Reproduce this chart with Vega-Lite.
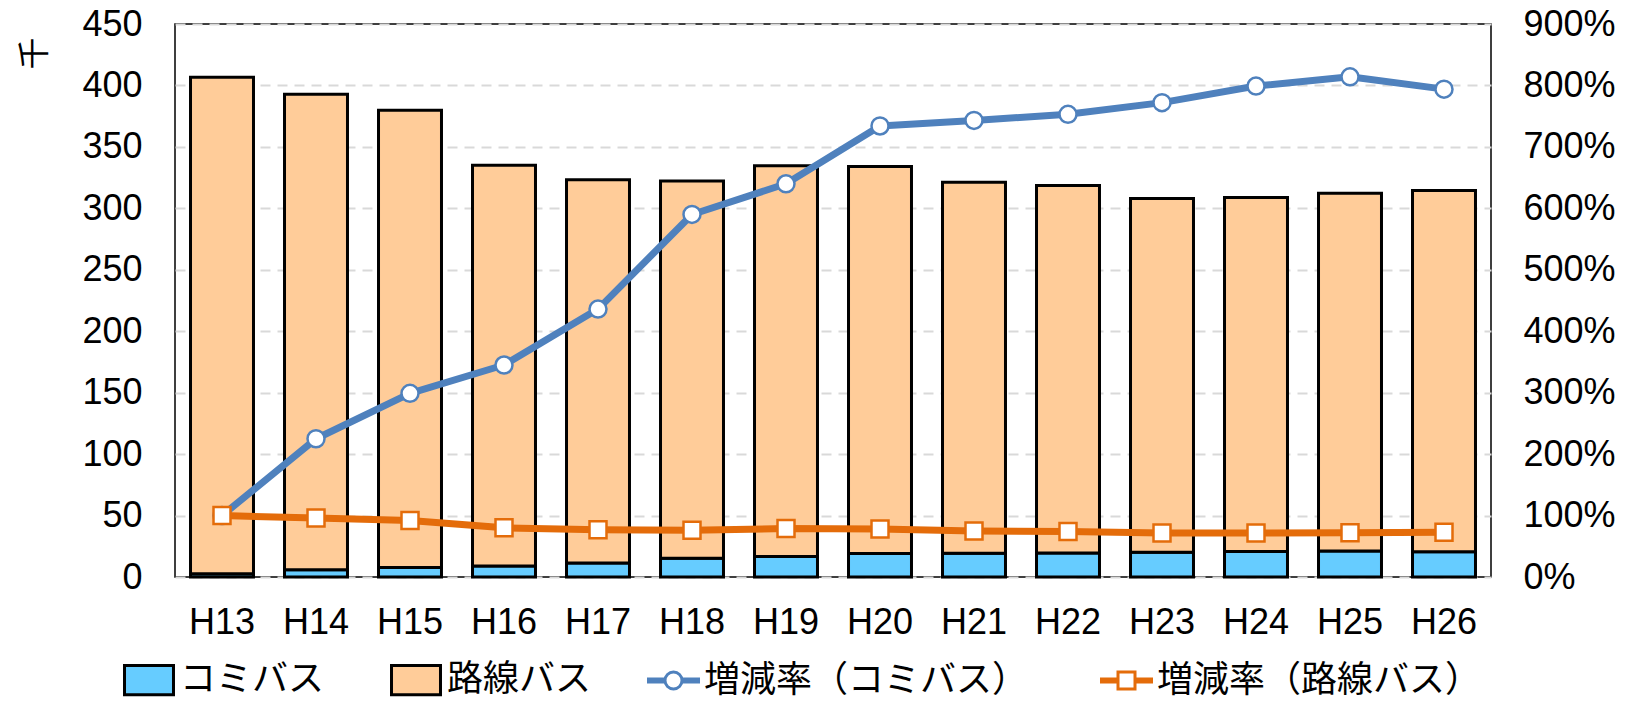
{
  "$schema": "https://vega.github.io/schema/vega-lite/v6.json",
  "width": 1316,
  "height": 553,
  "autosize": {"type": "none"},
  "padding": {"left": 175, "top": 24, "right": 136, "bottom": 126},
  "background": "white",
  "config": {
    "view": {"stroke": "black", "strokeWidth": 1.5},
    "font": "Liberation Sans",
    "axis": {"domain": false, "ticks": false, "labelColor": "black", "labelFont": "Liberation Sans", "labelFontSize": 36, "titleColor": "black"},
    "legend": {"labelFont": "Noto Sans CJK JP", "labelFontSize": 36, "labelColor": "black", "labelLimit": 600, "padding": 0, "title": null}
  },
  "datasets": {
    "bus": [
      {"year": "H13", "series": "コミバス", "value": 2.6},
      {"year": "H13", "series": "路線バス", "value": 404},
      {"year": "H14", "series": "コミバス", "value": 5.9},
      {"year": "H14", "series": "路線バス", "value": 387},
      {"year": "H15", "series": "コミバス", "value": 7.8},
      {"year": "H15", "series": "路線バス", "value": 372},
      {"year": "H16", "series": "コミバス", "value": 9.0},
      {"year": "H16", "series": "路線バス", "value": 326},
      {"year": "H17", "series": "コミバス", "value": 11.3},
      {"year": "H17", "series": "路線バス", "value": 312},
      {"year": "H18", "series": "コミバス", "value": 15.3},
      {"year": "H18", "series": "路線バス", "value": 307},
      {"year": "H19", "series": "コミバス", "value": 16.6},
      {"year": "H19", "series": "路線バス", "value": 318},
      {"year": "H20", "series": "コミバス", "value": 19.1},
      {"year": "H20", "series": "路線バス", "value": 315},
      {"year": "H21", "series": "コミバス", "value": 19.3},
      {"year": "H21", "series": "路線バス", "value": 302},
      {"year": "H22", "series": "コミバス", "value": 19.6},
      {"year": "H22", "series": "路線バス", "value": 299},
      {"year": "H23", "series": "コミバス", "value": 20.1},
      {"year": "H23", "series": "路線バス", "value": 288},
      {"year": "H24", "series": "コミバス", "value": 20.8},
      {"year": "H24", "series": "路線バス", "value": 288},
      {"year": "H25", "series": "コミバス", "value": 21.2},
      {"year": "H25", "series": "路線バス", "value": 291},
      {"year": "H26", "series": "コミバス", "value": 20.6},
      {"year": "H26", "series": "路線バス", "value": 294}
    ],
    "rate": [
      {"year": "H13", "comi": 1.00, "rosen": 1.00},
      {"year": "H14", "comi": 2.25, "rosen": 0.96},
      {"year": "H15", "comi": 2.99, "rosen": 0.92},
      {"year": "H16", "comi": 3.45, "rosen": 0.80},
      {"year": "H17", "comi": 4.36, "rosen": 0.77},
      {"year": "H18", "comi": 5.90, "rosen": 0.76},
      {"year": "H19", "comi": 6.40, "rosen": 0.79},
      {"year": "H20", "comi": 7.34, "rosen": 0.78},
      {"year": "H21", "comi": 7.43, "rosen": 0.75},
      {"year": "H22", "comi": 7.53, "rosen": 0.74},
      {"year": "H23", "comi": 7.72, "rosen": 0.715},
      {"year": "H24", "comi": 7.99, "rosen": 0.715},
      {"year": "H25", "comi": 8.14, "rosen": 0.72},
      {"year": "H26", "comi": 7.94, "rosen": 0.73}
    ]
  },
  "layer": [
    {
      "data": {"name": "bus"},
      "mark": {"type": "bar", "stroke": "black", "strokeWidth": 3},
      "encoding": {
        "x": {"field": "year", "type": "ordinal", "scale": {"paddingInner": 0.33, "paddingOuter": 0.165},
              "axis": {"title": null, "labelAngle": 0, "labelPadding": 28}},
        "y": {"field": "value", "type": "quantitative", "stack": "zero", "scale": {"domain": [0, 450], "nice": false},
              "axis": {"values": [0, 50, 100, 150, 200, 250, 300, 350, 400, 450], "labelPadding": 33,
                       "grid": true, "gridColor": "#d9d9d9", "gridDash": [10, 7], "gridWidth": 2,
                       "title": "千", "titleFont": "Noto Sans CJK JP", "titleFontSize": 32, "titleFontWeight": "normal",
                       "titleX": -141, "titleY": 29, "titleAlign": "center", "titleBaseline": "middle", "titleAngle": -90}},
        "fill": {"field": "series", "type": "nominal",
                 "scale": {"domain": ["コミバス", "路線バス"], "range": ["#66ccff", "#ffcc99"]},
                 "legend": {"orient": "none", "direction": "horizontal", "legendX": -52, "legendY": 630,
                            "symbolType": "M-1,-0.6H1V0.6H-1Z", "symbolSize": 2400, "symbolStrokeColor": "black",
                            "symbolStrokeWidth": 3, "labelOffset": 5, "columnPadding": 60}},
        "order": {"field": "series", "sort": "ascending"}
      }
    },
    {
      "data": {"name": "rate"},
      "mark": {"type": "line", "strokeWidth": 7, "strokeCap": "round", "strokeJoin": "round",
               "point": {"shape": "circle", "filled": false, "fill": "white", "size": 289, "strokeWidth": 2.5}},
      "encoding": {
        "x": {"field": "year", "type": "ordinal"},
        "y": {"field": "comi", "type": "quantitative", "scale": {"domain": [0, 9], "nice": false},
              "axis": {"orient": "right", "values": [0, 1, 2, 3, 4, 5, 6, 7, 8, 9], "format": ".0%", "labelPadding": 32, "grid": false, "title": null}},
        "stroke": {"datum": "増減率（コミバス）", "scale": {"range": ["#4f81bd"]},
                   "legend": {"orient": "none", "legendX": 472, "legendY": 630,
                              "symbolType": "M-1,-0.06H-0.34V0.06H-1Z M0.34,-0.06H1V0.06H0.34Z M0.34,0A0.34,0.34,0,1,1,-0.34,0A0.34,0.34,0,1,1,0.34,0Z",
                              "symbolSize": 2500, "symbolStrokeWidth": 3, "symbolFillColor": "white", "labelOffset": 4,
                              "encode": {"symbols": {"update": {"fill": {"value": "white"}, "strokeWidth": {"value": 3}}}}}}
      }
    },
    {
      "data": {"name": "rate"},
      "mark": {"type": "line", "strokeWidth": 7, "strokeCap": "round", "strokeJoin": "round",
               "point": {"shape": "square", "filled": false, "fill": "white", "size": 289, "strokeWidth": 2.5}},
      "encoding": {
        "x": {"field": "year", "type": "ordinal"},
        "y": {"field": "rosen", "type": "quantitative", "scale": {"domain": [0, 9], "nice": false}, "axis": null},
        "stroke": {"datum": "増減率（路線バス）", "scale": {"range": ["#e46c0a"]},
                   "legend": {"orient": "none", "legendX": 925, "legendY": 630,
                              "symbolType": "M-1,-0.06H-0.34V0.06H-1Z M0.34,-0.06H1V0.06H0.34Z M-0.34,-0.34H0.34V0.34H-0.34Z",
                              "symbolSize": 2500, "symbolStrokeWidth": 3, "symbolFillColor": "white", "labelOffset": 4,
                              "encode": {"symbols": {"update": {"fill": {"value": "white"}, "strokeWidth": {"value": 3}}}}}}
      }
    }
  ],
  "resolve": {"scale": {"y": "independent", "stroke": "independent"}, "legend": {"stroke": "independent"}}
}
